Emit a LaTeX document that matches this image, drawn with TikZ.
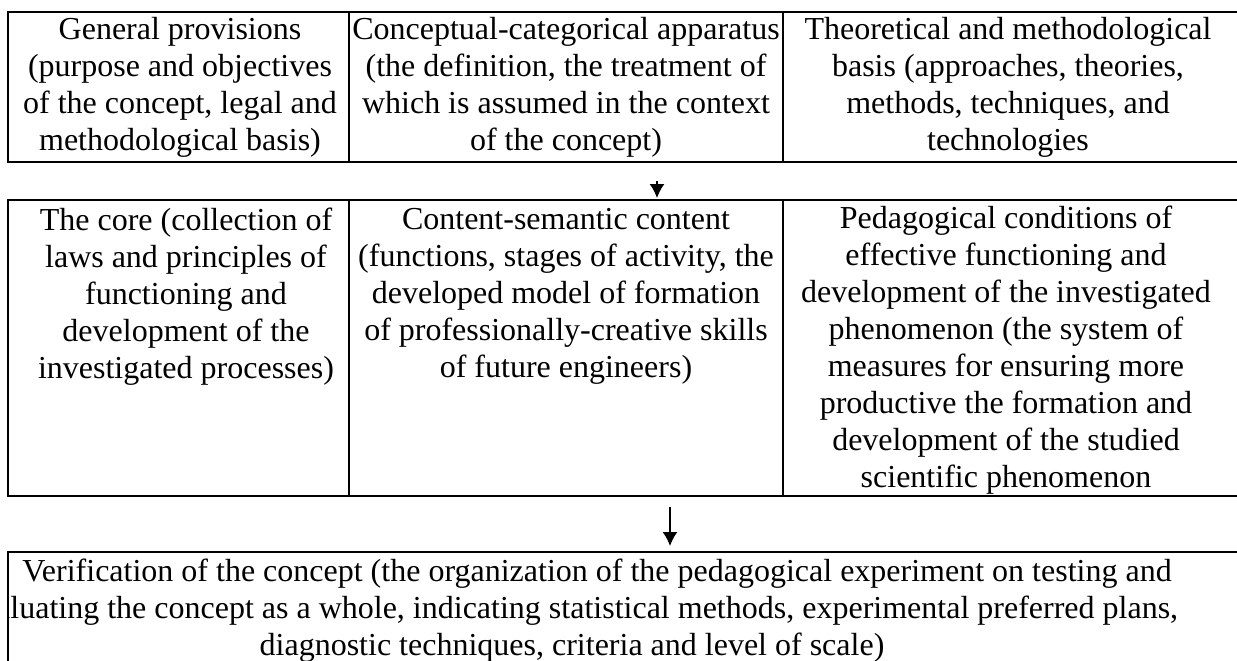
\documentclass[tikz,border=0pt]{standalone}
\usepackage{fontspec}
\setmainfont{Liberation Serif}
\usetikzlibrary{arrows.meta}
\begin{document}
\begin{tikzpicture}[x=0.5pt,y=-0.5pt,
  frame/.style={line width=1.1pt},
  txt/.style={align=center,inner sep=0pt,font=\fontsize{16}{18.5}\selectfont},
  flow/.style={line width=0.8pt,-{Latex[length=7pt,width=7.5pt]}}]
\useasboundingbox (0,0) rectangle (1237,660);
% row 1 frame
\draw[frame] (1260,12) -- (8,12) -- (8,162) -- (1260,162);
\draw[frame] (349,12) -- (349,162) (783,12) -- (783,162);
% row 2 frame
\draw[frame] (1260,200) -- (8,200) -- (8,496) -- (1260,496);
\draw[frame] (349,200) -- (349,496) (783,200) -- (783,496);
% bottom frame
\draw[frame] (1260,552) -- (8,552) -- (8,680);
% row 1 texts
\node[txt] (g) at (180,87.5) {General provisions\\(purpose and objectives\\of the concept, legal and\\methodological basis)};
\node[txt] (c) at (566,87.5) {Conceptual-categorical apparatus\\(the definition, the treatment of\\which is assumed in the context\\of the concept)};
\node[txt] (t) at (1008,87.5) {Theoretical and methodological\\basis (approaches, theories,\\methods, techniques, and\\technologies};
% row 2 texts
\node[txt] (k) at (186,297) {The core (collection of\\laws and principles of\\functioning and\\development of the\\investigated processes)};
\node[txt] (s) at (566,296) {Content-semantic content\\(functions, stages of activity, the\\developed model of formation\\of professionally-creative skills\\of future engineers)};
\node[txt] (p) at (1006,350) {Pedagogical conditions of\\effective functioning and\\development of the investigated\\phenomenon (the system of\\measures for ensuring more\\productive the formation and\\development of the studied\\scientific phenomenon};
% bottom text
\begin{scope}
\clip (9,553) rectangle (1260,680);
\node[txt] (v) at (572,611) {\hspace*{25pt}Verification of the concept (the organization of the pedagogical experiment on testing and\\evaluating the concept as a whole, indicating statistical methods, experimental preferred plans,\\diagnostic techniques, criteria and level of scale)};
\end{scope}
% arrows
\coordinate (a1s) at (657,181);
\coordinate (a1e) at (657,198);
\coordinate (a2s) at (670,507);
\coordinate (a2e) at (670,546);
\draw[flow] (a1s) -- (a1e);
\draw[flow] (a2s) -- (a2e);
\end{tikzpicture}
\end{document}
